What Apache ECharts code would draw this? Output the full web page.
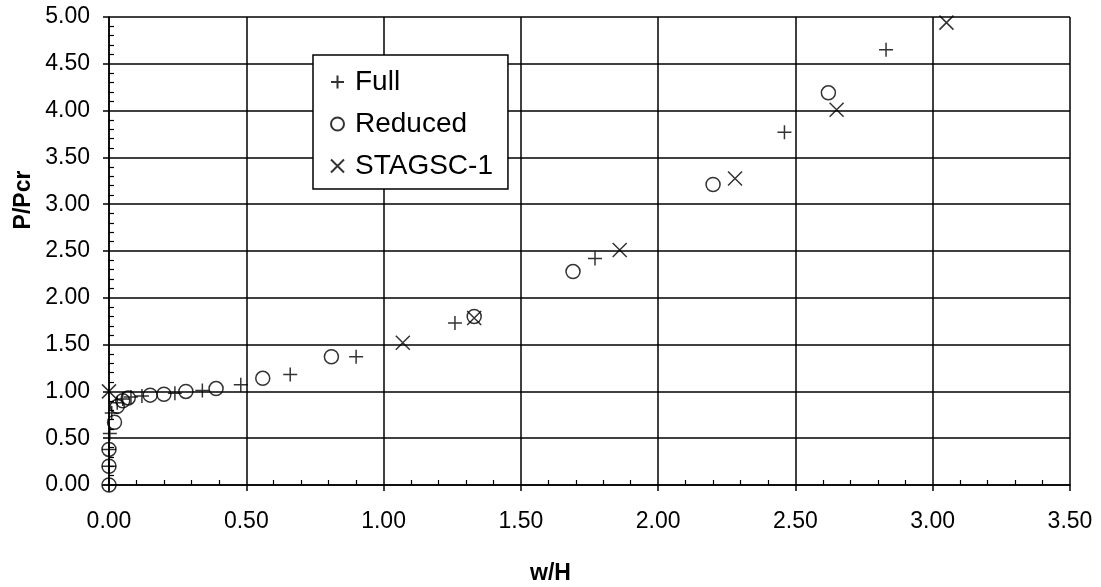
<!DOCTYPE html>
<html>
<head>
<meta charset="UTF-8">
<title>P/Pcr vs w/H</title>
<script src="https://cdn.jsdelivr.net/npm/echarts@6.0.0/dist/echarts.min.js"></script>
<style>html,body{margin:0;padding:0;background:#fff}</style>
</head>
<body>
<div id="chart" style="width:1101px;height:587px;"></div>
<script>
// data: [w/H, P/Pcr]
var fullData = [
    [0, 0], [0, 0.2], [0, 0.38], [0.003, 0.55], [0.01, 0.77], [0.03, 0.88],
    [0.05, 0.92], [0.08, 0.94], [0.12, 0.95], [0.24, 0.98], [0.34, 1.01],
    [0.48, 1.07], [0.66, 1.18], [0.90, 1.37], [1.26, 1.73], [1.77, 2.42],
    [2.46, 3.77], [2.83, 4.65]
];
var reducedData = [
    [0, 0], [0, 0.2], [0, 0.38], [0.02, 0.67], [0.03, 0.84], [0.05, 0.90],
    [0.07, 0.93], [0.15, 0.96], [0.20, 0.97], [0.28, 1.0], [0.39, 1.03],
    [0.56, 1.14], [0.81, 1.37], [1.33, 1.80], [1.69, 2.28], [2.20, 3.21],
    [2.62, 4.19]
];
var stagscData = [
    [0, 1.0], [1.07, 1.52], [1.33, 1.785], [1.86, 2.51], [2.28, 3.275],
    [2.65, 4.01], [3.05, 4.94]
];
var seriesNames = ['Full', 'Reduced', 'STAGSC-1'];
var xRange = [0, 3.5, 0.5];   // min, max, interval
var yRange = [0, 5, 0.5];

var plusPath = 'path://M0,5L10,5M5,0L5,10';
var crossPath = 'path://M0,0L10,10M10,0L0,10';
var circlePath = 'path://M10,5A5,5 0 1,1 0,5A5,5 0 1,1 10,5Z';

var font = 'Liberation Sans, Arial, sans-serif';
var black = '#000';

var myChart = echarts.init(document.getElementById('chart'));

function fmt(v) { return v.toFixed(2); }

function markStyle() {
    return { color: 'transparent', borderColor: black, borderWidth: 1.5 };
}

// first axis: labels, grid, outside major ticks; second axis: inside minor ticks only
function valueAxis(r, isX, withLabels) {
    return {
        type: 'value', min: r[0], max: r[1], interval: r[2],
        position: isX ? 'bottom' : 'left',
        axisLine: { show: withLabels, onZero: false, lineStyle: { color: black, width: 1.5 } },
        splitLine: { show: withLabels, lineStyle: { color: black, width: 1.5 } },
        axisLabel: {
            show: withLabels, formatter: fmt, color: black,
            fontFamily: font, fontSize: 23, margin: isX ? 25 : 19
        },
        axisTick: { show: withLabels, inside: !withLabels, length: 6, lineStyle: { color: black, width: 1.5 } },
        minorTick: { show: !withLabels, splitNumber: 5, length: 5, lineStyle: { color: black, width: 1.2 } },
        minorSplitLine: { show: false }
    };
}

var option = {
    backgroundColor: '#fff',
    animation: false,
    grid: { left: 109, right: 31, top: 17, bottom: 102 },
    xAxis: [valueAxis(xRange, true, true), valueAxis(xRange, true, false)],
    yAxis: [valueAxis(yRange, false, true), valueAxis(yRange, false, false)],
    legend: {
        orient: 'vertical',
        left: 313, top: 55,
        padding: [13, 15, 9, 17],
        itemGap: 14,
        itemWidth: 13, itemHeight: 13,
        backgroundColor: '#fff',
        borderColor: black, borderWidth: 1.5, borderRadius: 0,
        textStyle: { fontFamily: font, fontSize: 28, color: black, padding: [0, 0, 0, 6] },
        data: seriesNames
    },
    graphic: [
        {
            type: 'text', left: 'center', top: 562,
            style: { text: 'w/H', font: 'bold 23px ' + font, fill: black }
        },
        {
            type: 'text', x: 12, y: 200, rotation: Math.PI / 2,
            style: { text: 'P/Pcr', font: 'bold 23px ' + font, fill: black, align: 'center', verticalAlign: 'top' }
        }
    ],
    series: [
        { name: seriesNames[0], type: 'scatter', data: fullData, symbol: plusPath, symbolSize: 14, itemStyle: markStyle() },
        { name: seriesNames[1], type: 'scatter', data: reducedData, symbol: circlePath, symbolSize: 14, itemStyle: markStyle() },
        { name: seriesNames[2], type: 'scatter', data: stagscData, symbol: crossPath, symbolSize: 14, itemStyle: markStyle() }
    ]
};
myChart.setOption(option);
</script>
</body>
</html>
